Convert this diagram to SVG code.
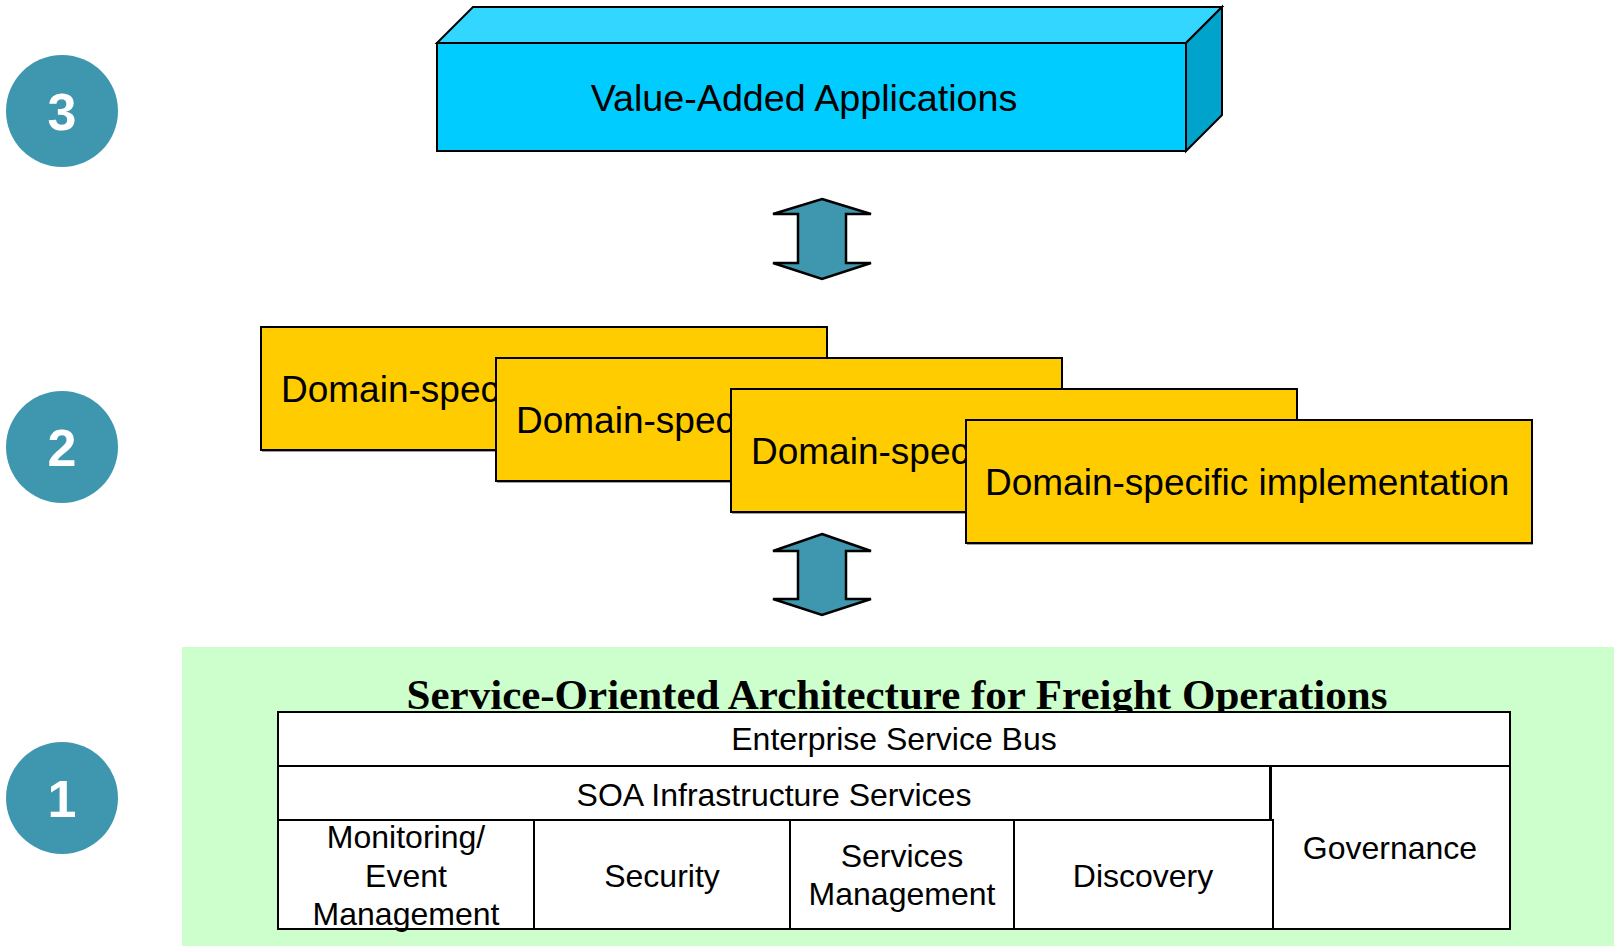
<svg xmlns="http://www.w3.org/2000/svg" width="1614" height="946" viewBox="0 0 1614 946">
<style>
.badge{fill:#3E97AE}
.num{font-family:"Liberation Sans",Arial,sans-serif;font-weight:bold;font-size:52px;fill:#fff;text-anchor:middle}
.lbl{font-family:"Liberation Sans",Arial,sans-serif;font-size:37px;fill:#000}
.cell{fill:#fff;stroke:#000;stroke-width:2}
.ct{font-family:"Liberation Sans",Arial,sans-serif;font-size:32px;fill:#000;text-anchor:middle}
.dom{fill:#FFCC00;stroke:#000;stroke-width:2}
.shadow{fill:#a0a0a0}
.arrow{fill:#3E97AE;stroke:#000;stroke-width:2.5;stroke-linejoin:miter}
.title{font-family:"Liberation Serif","Times New Roman",serif;font-weight:bold;font-size:43px;fill:#000;text-anchor:middle}
</style>
<rect width="1614" height="946" fill="#fff"/>

<g id="badge-3"><circle class="badge" cx="62" cy="111" r="56"/><text class="num" x="62" y="130">3</text></g>
<g id="badge-2"><circle class="badge" cx="62" cy="447" r="56"/><text class="num" x="62" y="466">2</text></g>
<g id="badge-1"><circle class="badge" cx="62" cy="798" r="56"/><text class="num" x="62" y="817">1</text></g>

<g id="value-added-applications" stroke="#000" stroke-width="2" stroke-linejoin="miter">
  <polygon points="437,43 473,7 1222,7 1186,43" fill="#33D6FF"/>
  <polygon points="1186,43 1222,7 1222,115 1186,151" fill="#00A3CC"/>
  <rect x="437" y="43" width="749" height="108" fill="#00CCFF"/>
  <text class="lbl" x="804" y="111" text-anchor="middle" stroke="none" style="font-size:37.7px">Value-Added Applications</text>
</g>

<g id="domain-1">
  <rect class="shadow" x="262" y="329" width="566" height="123"/>
  <rect class="dom" x="261" y="327" width="566" height="123"/>
  <text class="lbl" x="281" y="402">Domain-specific implementation</text>
</g>
<g id="domain-2">
  <rect class="shadow" x="497" y="360" width="566" height="123"/>
  <rect class="dom" x="496" y="358" width="566" height="123"/>
  <text class="lbl" x="516" y="433">Domain-specific implementation</text>
</g>
<g id="domain-3">
  <rect class="shadow" x="732" y="391" width="566" height="123"/>
  <rect class="dom" x="731" y="389" width="566" height="123"/>
  <text class="lbl" x="751" y="464">Domain-specific implementation</text>
</g>
<g id="domain-4">
  <rect class="shadow" x="967" y="422" width="566" height="123"/>
  <rect class="dom" x="966" y="420" width="566" height="123"/>
  <text class="lbl" x="985" y="495">Domain-specific implementation</text>
</g>

<g id="connectors">
  <polygon class="arrow" points="822,199 871,214 846,214 846,263 871,263 822,279 773,263 798,263 798,214 773,214"/>
  <polygon class="arrow" points="822,534 871,551 846,551 846,599 871,599 822,615 773,599 798,599 798,551 773,551"/>
</g>

<g id="soa-layer">
  <rect x="182" y="647" width="1432" height="299" fill="#CCFFCC"/>
  <text class="title" x="897" y="709">Service-Oriented Architecture for Freight Operations</text>
</g>

<g id="enterprise-service-bus">
  <rect class="cell" x="278" y="712" width="1232" height="54"/>
  <text class="ct" x="894" y="750">Enterprise Service Bus</text>
</g>
<g id="soa-infrastructure-services">
  <rect class="cell" x="278" y="766" width="992" height="54"/>
  <text class="ct" x="774" y="806">SOA Infrastructure Services</text>
</g>
<g id="governance">
  <rect class="cell" x="1271" y="766" width="239" height="163"/>
  <text class="ct" x="1390" y="859">Governance</text>
</g>
<g id="monitoring">
  <rect class="cell" x="278" y="820" width="256" height="109"/>
  <text class="ct" x="406" y="848">Monitoring/</text>
  <text class="ct" x="406" y="887">Event</text>
  <text class="ct" x="406" y="925">Management</text>
</g>
<g id="security">
  <rect class="cell" x="534" y="820" width="256" height="109"/>
  <text class="ct" x="662" y="887">Security</text>
</g>
<g id="services-management">
  <rect class="cell" x="790" y="820" width="224" height="109"/>
  <text class="ct" x="902" y="867">Services</text>
  <text class="ct" x="902" y="905">Management</text>
</g>
<g id="discovery">
  <rect class="cell" x="1014" y="820" width="259" height="109"/>
  <text class="ct" x="1143" y="887">Discovery</text>
</g>
</svg>
